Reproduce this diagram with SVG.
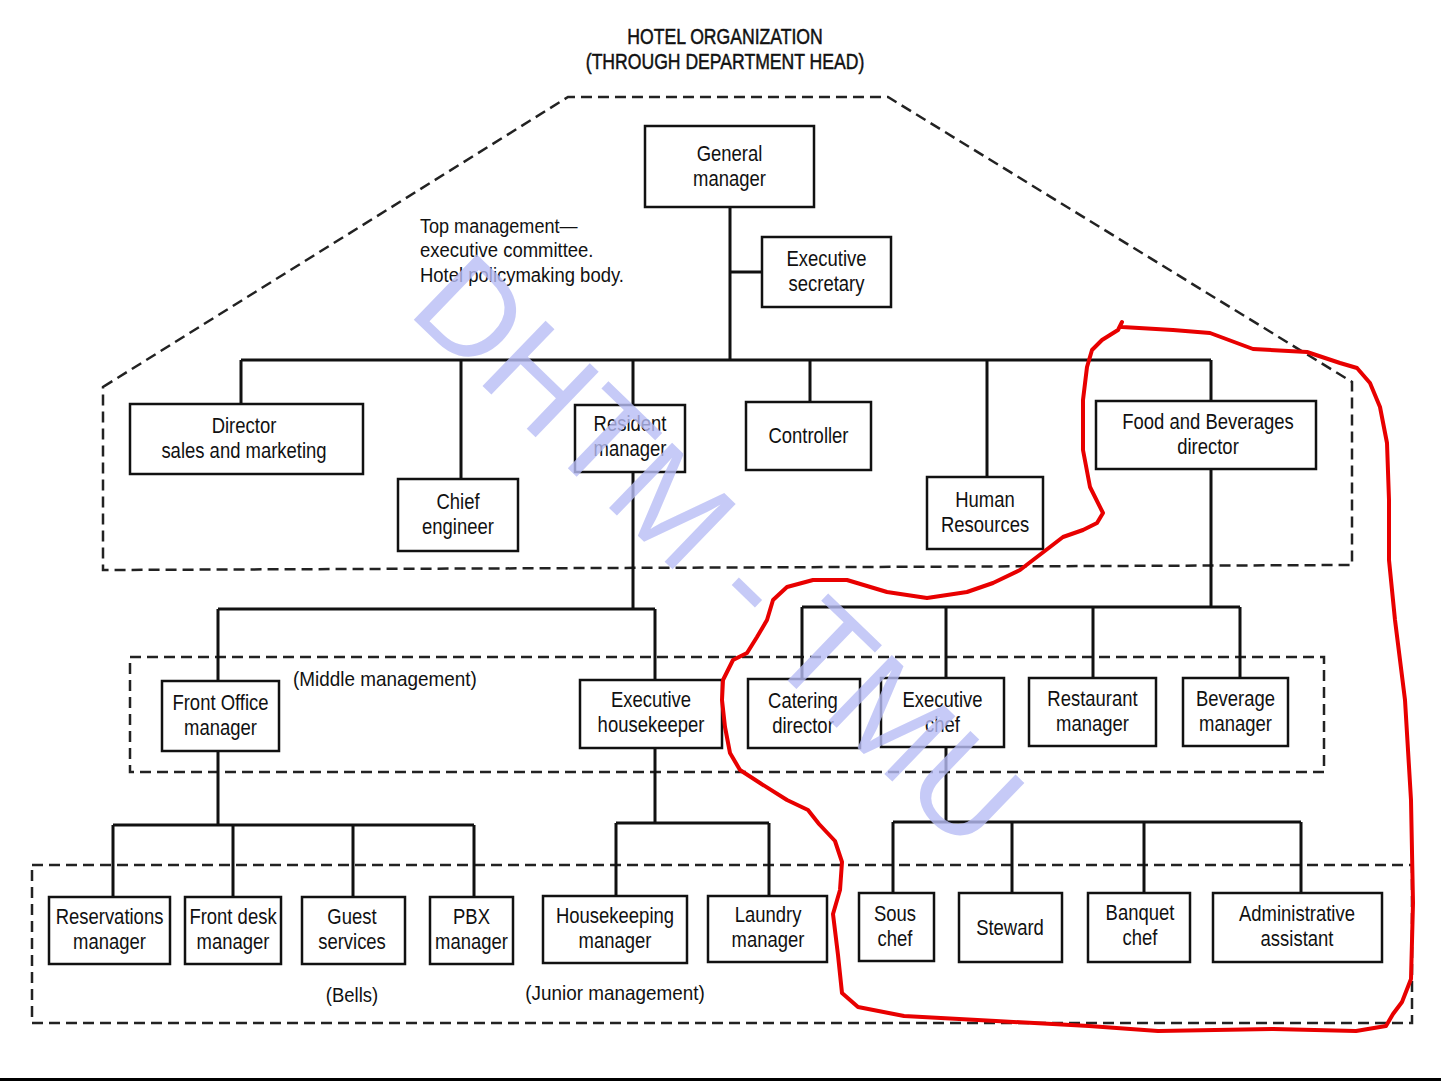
<svg xmlns="http://www.w3.org/2000/svg" width="1441" height="1081" viewBox="0 0 1441 1081">
<style>
.box{fill:#fff;stroke:#111;stroke-width:2.5}
.t{font-family:'Liberation Sans',Arial,sans-serif;font-size:22px;text-anchor:middle;fill:#111}
.l{font-family:'Liberation Sans',Arial,sans-serif;font-size:21px;fill:#111}
.h{font-family:'Liberation Sans',Arial,sans-serif;font-size:22px;text-anchor:middle;fill:#111;stroke:#111;stroke-width:0.5}
.c{stroke:#111;stroke-width:3;fill:none}
.d{stroke:#222;stroke-width:2.5;stroke-dasharray:11 6;fill:none}
.wm{font-family:'Liberation Sans',Arial,sans-serif;font-size:132px;fill:#b8bdf5;fill-opacity:0.8;text-anchor:middle}
.red{stroke:#e80000;stroke-width:4;fill:none;stroke-linejoin:round;stroke-linecap:round}
</style>
<rect width="1441" height="1081" fill="#fff"/>
<g id="title">
<text class="h" transform="translate(725,44) scale(.8,1)">HOTEL ORGANIZATION</text>
<text class="h" transform="translate(725,69) scale(.8,1)">(THROUGH DEPARTMENT HEAD)</text>
</g>
<g id="regions">
<path class="d" d="M103,387 L568,97 L888,97 L1352,382 L1352,565 L103,570 Z"/>
<path class="d" d="M130,657 H1324 V772 H130 Z"/>
<path class="d" d="M32,865 H1412 V1023 H32 Z"/>
</g>
<g id="labels">
<text class="l" transform="translate(420,233) scale(.86,1)">Top management—</text>
<text class="l" transform="translate(420,257) scale(.88,1)">executive committee.</text>
<text class="l" transform="translate(420,282) scale(.88,1)">Hotel policymaking body.</text>
<text class="l" transform="translate(293,686) scale(.9,1)">(Middle management)</text>
<text class="l" text-anchor="middle" transform="translate(352,1002) scale(.88,1)">(Bells)</text>
<text class="l" text-anchor="middle" transform="translate(615,1000) scale(.9,1)">(Junior management)</text>
</g>
<g id="connectors">
<path class="c" d="M730,207 V360 M730,272 H762 M241,360 H1211 M241,360 V404 M461,360 V479 M633,360 V405 M810,360 V402 M987,360 V477 M1211,360 V401"/>
<path class="c" d="M633,472 V609 M218,609 H655 M218,609 V681 M655,609 V680"/>
<path class="c" d="M1211,469 V607 M802,607 H1240 M802,607 V679 M946,607 V678 M1093,607 V678 M1240,607 V678"/>
<path class="c" d="M218,751 V825 M113,825 H474 M113,825 V897 M233,825 V897 M353,825 V897 M474,825 V897"/>
<path class="c" d="M655,748 V823 M616,823 H769 M616,823 V896 M769,823 V896"/>
<path class="c" d="M946,747 V822 M893,822 H1301 M893,822 V893 M1012,822 V893 M1144,822 V893 M1301,822 V893"/>
</g>
<g id="general-manager"><rect class="box" x="645" y="126" width="169" height="81"/><text class="t" transform="translate(729.5,161) scale(.84,1)">General</text><text class="t" transform="translate(729.5,186) scale(.84,1)">manager</text></g>
<g id="executive-secretary"><rect class="box" x="762" y="237" width="129" height="70"/><text class="t" transform="translate(826.5,266) scale(.84,1)">Executive</text><text class="t" transform="translate(826.5,291) scale(.84,1)">secretary</text></g>
<g id="director-sales"><rect class="box" x="130" y="404" width="233" height="70"/><text class="t" transform="translate(244,433) scale(.84,1)">Director</text><text class="t" transform="translate(244,458) scale(.84,1)">sales and marketing</text></g>
<g id="chief-engineer"><rect class="box" x="398" y="479" width="120" height="72"/><text class="t" transform="translate(458,509) scale(.84,1)">Chief</text><text class="t" transform="translate(458,534) scale(.84,1)">engineer</text></g>
<g id="resident-manager"><rect class="box" x="575" y="405" width="110" height="67"/><text class="t" transform="translate(630,431) scale(.84,1)">Resident</text><text class="t" transform="translate(630,456) scale(.84,1)">manager</text></g>
<g id="controller"><rect class="box" x="746" y="402" width="125" height="68"/><text class="t" transform="translate(808.5,443) scale(.84,1)">Controller</text></g>
<g id="human-resources"><rect class="box" x="927" y="477" width="116" height="72"/><text class="t" transform="translate(985,507) scale(.84,1)">Human</text><text class="t" transform="translate(985,532) scale(.84,1)">Resources</text></g>
<g id="fb-director"><rect class="box" x="1096" y="401" width="220" height="68"/><text class="t" transform="translate(1208,429) scale(.84,1)">Food and Beverages</text><text class="t" transform="translate(1208,454) scale(.84,1)">director</text></g>
<g id="front-office-manager"><rect class="box" x="162" y="681" width="117" height="70"/><text class="t" transform="translate(220.5,710) scale(.84,1)">Front Office</text><text class="t" transform="translate(220.5,735) scale(.84,1)">manager</text></g>
<g id="executive-housekeeper"><rect class="box" x="580" y="680" width="142" height="68"/><text class="t" transform="translate(651,707) scale(.84,1)">Executive</text><text class="t" transform="translate(651,732) scale(.84,1)">housekeeper</text></g>
<g id="catering-director"><rect class="box" x="748" y="679" width="112" height="69"/><text class="t" transform="translate(803,708) scale(.84,1)">Catering</text><text class="t" transform="translate(803,733) scale(.84,1)">director</text></g>
<g id="executive-chef"><rect class="box" x="881" y="678" width="123" height="69"/><text class="t" transform="translate(942.5,707) scale(.84,1)">Executive</text><text class="t" transform="translate(942.5,732) scale(.84,1)">chef</text></g>
<g id="restaurant-manager"><rect class="box" x="1029" y="678" width="127" height="68"/><text class="t" transform="translate(1092.5,706) scale(.84,1)">Restaurant</text><text class="t" transform="translate(1092.5,731) scale(.84,1)">manager</text></g>
<g id="beverage-manager"><rect class="box" x="1183" y="678" width="105" height="68"/><text class="t" transform="translate(1235.5,706) scale(.84,1)">Beverage</text><text class="t" transform="translate(1235.5,731) scale(.84,1)">manager</text></g>
<g id="reservations-manager"><rect class="box" x="49" y="897" width="121" height="67"/><text class="t" transform="translate(109.5,924) scale(.84,1)">Reservations</text><text class="t" transform="translate(109.5,949) scale(.84,1)">manager</text></g>
<g id="front-desk-manager"><rect class="box" x="185" y="897" width="96" height="67"/><text class="t" transform="translate(233,924) scale(.84,1)">Front desk</text><text class="t" transform="translate(233,949) scale(.84,1)">manager</text></g>
<g id="guest-services"><rect class="box" x="302" y="897" width="103" height="67"/><text class="t" transform="translate(352,924) scale(.84,1)">Guest</text><text class="t" transform="translate(352,949) scale(.84,1)">services</text></g>
<g id="pbx-manager"><rect class="box" x="430" y="897" width="83" height="67"/><text class="t" transform="translate(471.5,924) scale(.84,1)">PBX</text><text class="t" transform="translate(471.5,949) scale(.84,1)">manager</text></g>
<g id="housekeeping-manager"><rect class="box" x="543" y="896" width="144" height="67"/><text class="t" transform="translate(615,923) scale(.84,1)">Housekeeping</text><text class="t" transform="translate(615,948) scale(.84,1)">manager</text></g>
<g id="laundry-manager"><rect class="box" x="708" y="896" width="119" height="66"/><text class="t" transform="translate(768,922) scale(.84,1)">Laundry</text><text class="t" transform="translate(768,947) scale(.84,1)">manager</text></g>
<g id="sous-chef"><rect class="box" x="859" y="893" width="75" height="68"/><text class="t" transform="translate(895,921) scale(.84,1)">Sous</text><text class="t" transform="translate(895,946) scale(.84,1)">chef</text></g>
<g id="steward"><rect class="box" x="959" y="893" width="103" height="69"/><text class="t" transform="translate(1010,935) scale(.84,1)">Steward</text></g>
<g id="banquet-chef"><rect class="box" x="1088" y="893" width="102" height="69"/><text class="t" transform="translate(1140,920) scale(.84,1)">Banquet</text><text class="t" transform="translate(1140,945) scale(.84,1)">chef</text></g>
<g id="administrative-assistant"><rect class="box" x="1213" y="893" width="169" height="69"/><text class="t" transform="translate(1297,921) scale(.84,1)">Administrative</text><text class="t" transform="translate(1297,946) scale(.84,1)">assistant</text></g>
<g id="watermark" transform="translate(720,550) rotate(44)"><text class="wm" x="0" y="47">DHTM - TMU</text></g>
<g id="annotation">
<path class="red" d="M1122,322 L1118,330 L1110,335 L1102,340 L1092,350 L1087,367 L1083,400 L1083,450 L1090,487 L1103,513 L1097,523 L1083,530 L1063,537 L1050,547 L1033,560 L1020,570 L993,583 L967,592 L927,598 L887,592 L847,580 L813,580 L787,587 L773,600 L767,620 L757,637 L747,653 L733,660 L723,680 L722,700 L725,727 L730,753 L740,770 L760,783 L787,800 L808,810 L819,824 L835,841 L842,862 L840,890 L833,914 L838,955 L842,993 L858,1007 L904,1016 L996,1021 L1089,1026 L1158,1031 L1273,1029 L1356,1031 L1386,1026 L1393,1014 L1402,1002 L1411,979 L1413,903 L1411,800 L1405,700 L1395,620 L1389,560 L1389,500 L1387,443 L1380,407 L1370,383 L1357,368 L1340,363 L1307,352 L1253,349 L1210,333 L1173,330 L1122,327"/>
</g>
<rect id="bottom-rule" x="0" y="1078" width="1441" height="3" fill="#000"/>
</svg>
